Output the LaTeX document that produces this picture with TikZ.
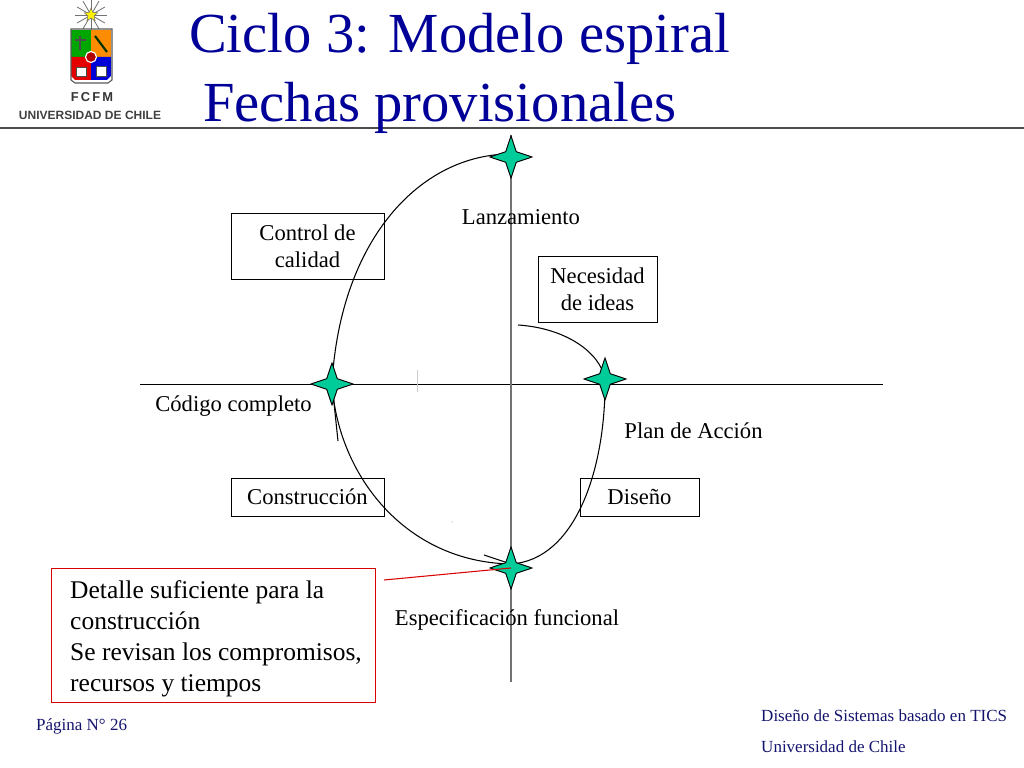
\documentclass[tikz,border=0pt]{standalone}
\usepackage{fontspec}
\setmainfont{Liberation Serif}
\newfontfamily\logofont{Liberation Sans}
\usetikzlibrary{shapes.geometric}
\definecolor{titulo}{RGB}{0,0,153}
\definecolor{verdehito}{RGB}{0,204,153}
\definecolor{pie}{RGB}{20,20,110}
\tikzset{
	caja/.style={draw,line width=0.7pt,align=center,inner sep=0pt,font=\fontsize{19.3}{23.3}\selectfont},
	texto/.style={inner sep=0pt,font=\fontsize{19.3}{23.3}\selectfont},
	titulotxt/.style={inner sep=0pt,text=titulo,anchor=base west,font=\fontsize{48.3}{48.3}\selectfont},
	pietxt/.style={inner sep=0pt,text=pie,font=\fontsize{14.5}{14.5}\selectfont},
	hito/.style={star,star points=4,star point ratio=2.8,draw=black,fill=verdehito,line width=0.8pt,minimum size=1.26cm,inner sep=0pt},
	curva/.style={line width=0.9pt},
	eje/.style={line width=0.8pt},
	ejegris/.style={line width=1.9pt,draw=black!55}
}
\begin{document}
\begin{tikzpicture}[x=0.03cm,y=-0.03cm]
	\useasboundingbox (0,0) rectangle (1024,768);
	% puntos de la espiral
	\coordinate (pLanz) at (511,154);
	\coordinate (pCod) at (332,384);
	\coordinate (pPlan) at (605,379);
	\coordinate (pEsp) at (511,564);
	\coordinate (pIni) at (518,325);
	\coordinate (ejeO) at (140,384);
	\coordinate (ejeE) at (883,384);
	\coordinate (ejeN) at (511,135);
	\coordinate (ejeS) at (511,682);
	\coordinate (finCod) at (338,441);
	\coordinate (iniEsp) at (484,555);
	% logo
	\draw[line width=1.6pt,draw=black!70] (0,128) -- (1024,128);
	\foreach \ang in {0,30,...,330}
		\draw[black!55,line width=0.7pt] (91,15) -- ++(\ang:16);
	\node[star,star points=5,star point ratio=2.2,draw=black!60,fill=yellow,minimum size=0.42cm,inner sep=0pt] (estrella) at (91,15) {};
	\fill[green!65!black] (71,30) rectangle (91,57);
	\fill[orange!90!yellow] (91,30) rectangle (111,57);
	\fill[red!90!black] (71,57) -- (91,57) -- (91,80) -- (75,80) -- (71,76) -- cycle;
	\fill[blue!85!black] (91,57) -- (111,57) -- (111,76) -- (107,80) -- (91,80) -- cycle;
	\draw[black!65,line width=0.9pt] (71,29) -- (112,29) -- (112,80) -- (108,83) -- (75,83) -- (71,80) -- cycle;
	\draw[black!70,line width=1.2pt] (80,36) -- (80,50) (75,40) -- (86,40);
	\draw[black!80!green,line width=1.8pt] (95,36) -- (107,52);
	\draw[black!70,fill=white,line width=0.6pt] (76,67) rectangle (86,76);
	\draw[black!70,fill=white,line width=0.6pt] (96,66) rectangle (106,76);
	\draw[fill=red!70!black,draw=white,line width=1pt] (91,57) circle (5.5);
	\node[inner sep=0pt,text=black!80,font=\logofont\bfseries\fontsize{11}{11}\selectfont] (fcfm) at (92,97) {F\,C\,F\,M};
	\node[inner sep=0pt,text=black!75,font=\logofont\bfseries\fontsize{10.25}{10.25}\selectfont] (uchile) at (90,115) {UNIVERSIDAD DE CHILE};
	% titulo
	\node[titulotxt] (tit1) at (189,53) {Ciclo 3: Modelo espiral};
	\node[titulotxt] (tit2) at (203,122) {Fechas provisionales};
	% cajas
	\node[caja,minimum width=4.59cm,minimum height=1.98cm] (control) at (307.5,246) {Control de\\calidad};
	\node[caja,minimum width=3.57cm,minimum height=1.98cm] (necesidad) at (597.5,289) {Necesidad\\de ideas};
	\node[caja,minimum width=4.59cm,minimum height=1.14cm] (construccion) at (307.5,497) {Construcción};
	\node[caja,minimum width=3.57cm,minimum height=1.14cm] (diseno) at (639.5,497) {Diseño};
	% ejes y curvas
	\draw[eje] (ejeO) -- (ejeE);
	\draw[ejegris] (ejeN) -- (ejeS);
	\draw[black!20,line width=0.4pt] (417,370) -- (417,392);
	\fill[black!60] (452,522) circle (0.5);
	\draw[curva] (pLanz) .. controls (420,154) and (340,240) .. (pCod);
	\draw[curva] (pCod) .. controls (338,475) and (405,562) .. (pEsp);
	\draw[curva] (pCod) -- (finCod);
	\draw[curva] (pIni) .. controls (565,328) and (600,352) .. (pPlan);
	\draw[curva] (pPlan) .. controls (606,470) and (575,560) .. (pEsp);
	\draw[curva] (iniEsp) -- (pEsp);
	% hitos
	\node[hito] (hLanz) at (511,157) {};
	\node[hito] (hCod) at (332,384) {};
	\node[hito] (hPlan) at (605,379) {};
	\node[hito] (hEsp) at (511,568) {};
	% etiquetas
	\node[texto] (lanzamiento) at (521,217) {Lanzamiento};
	\node[texto] (codigo) at (233.5,406.5) {Código completo};
	\node[texto] (plan) at (693.5,431) {Plan de Acción};
	\node[texto] (especif) at (507,620) {Especificación funcional};
	% nota
	\node[draw=red!85!black,line width=0.8pt,minimum width=9.72cm,minimum height=4.02cm,inner sep=0pt] (notaBox) at (213,635) {};
	\node[inner sep=0pt,anchor=west,align=left,font=\fontsize{21.75}{26.45}\selectfont] (nota) at (70,638.5) {Detalle suficiente para la\\construcción\\Se revisan los compromisos,\\recursos y tiempos};
	\draw[line width=0.9pt,draw=red!85!black] (384,580) -- (hEsp.center);
	% pie
	\node[pietxt,anchor=west] (pagina) at (36,726) {Página N° 26};
	\node[pietxt,anchor=west] (pie1) at (761,716) {Diseño de Sistemas basado en TICS};
	\node[pietxt,anchor=west] (pie2) at (761,747) {Universidad de Chile};
\end{tikzpicture}
\end{document}
